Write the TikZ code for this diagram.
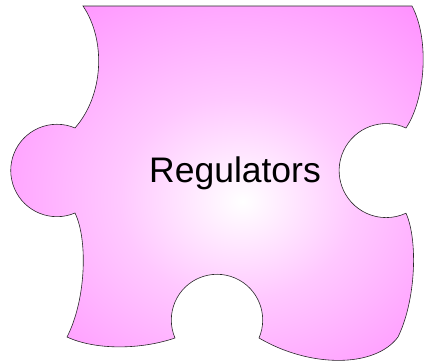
\documentclass[tikz,border=0pt]{standalone}
\usepackage{fontspec}
\setmainfont{Liberation Sans}

\definecolor{pieceedge}{RGB}{255,140,255}
\definecolor{piecemid}{RGB}{255,200,255}
\definecolor{pieceline}{RGB}{40,40,40}

\pgfdeclareradialshading{pieceglow}{\pgfpoint{3bp}{-2bp}}{%
  color(0bp)=(white);
  color(14bp)=(piecemid);
  color(36bp)=(pieceedge);
  color(70bp)=(pieceedge)}

\begin{document}
\begin{tikzpicture}[x=1pt, y=-1pt]
        \tikzstyle{piece}=[draw=pieceline,line width=0.6pt,shading=pieceglow]
        \tikzstyle{caption}=[font=\fontsize{35.5}{42}\selectfont,inner sep=0pt,anchor=base]

        \useasboundingbox (0,0) rectangle (425,362);

        \path[piece] (83,6) -- (412,6)
            .. controls (430,40) and (425,100) .. (406,128)
            arc[start angle=-65, end angle=-295, radius=47]
            .. controls (418,240) and (416,300) .. (398,337)
            .. controls (375,368) and (310,368) .. (259,338)
            arc[start angle=23.2, end angle=-203.2, radius=45.7]
            .. controls (140,350) and (95,350) .. (67,337)
            .. controls (86,300) and (88,240) .. (75,213)
            arc[start angle=67, end angle=293, radius=46.2]
            .. controls (104,95) and (106,40) .. (83,6) -- cycle;

        \node[caption] (label) at (235,182) {Regulators};
    \end{tikzpicture}
\end{document}
